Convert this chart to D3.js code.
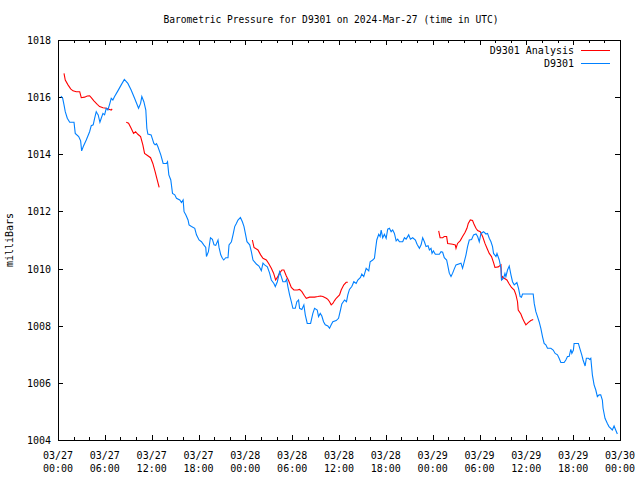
<!DOCTYPE html>
<html><head><meta charset="utf-8">
<script src="https://cdn.jsdelivr.net/npm/d3@7"></script>
<style>
body{margin:0;background:#fff;}
svg{display:block;}
text{font-family:"DejaVu Sans Mono","Liberation Mono",monospace;font-size:10px;fill:#000;}
</style></head>
<body>
<svg id="chart" width="640" height="480"></svg>
<script>
// ---- data (hours since 2024-03-27 00:00 UTC, pressure in mbar) ----
const titleText = "Barometric Pressure for D9301 on 2024-Mar-27 (time in UTC)";
const yLabel = "milliBars";
const seriesNames = ["D9301 Analysis", "D9301"];
const yTicks = [1004, 1006, 1008, 1010, 1012, 1014, 1016, 1018];

const obsHours = [0.38,0.60,0.77,0.93,1.19,1.50,2.05,2.21,2.65,2.90,3.03,3.24,3.62,4.05,4.26,4.51,4.69,4.90,5.03,5.15,5.37,5.54,5.76,5.97,6.18,6.39,6.61,6.82,7.03,7.25,7.67,8.10,8.50,8.95,9.37,9.81,10.32,10.58,10.74,11.00,11.25,11.38,11.51,11.93,12.28,12.44,12.62,12.79,13.17,13.47,13.90,14.03,14.20,14.45,14.67,14.96,15.18,15.60,15.82,16.03,16.15,16.37,16.66,16.79,17.10,17.52,17.74,18.07,18.38,18.67,18.93,19.02,19.27,19.53,19.78,19.99,20.21,20.50,20.63,20.85,21.06,21.23,21.49,21.78,21.91,22.22,22.42,22.64,22.85,23.06,23.37,23.62,23.83,24.04,24.21,24.56,24.77,24.98,25.41,25.74,26.05,26.26,26.47,26.82,27.11,27.33,27.66,27.84,28.10,28.39,28.61,28.81,29.12,29.29,29.45,29.67,29.89,30.09,30.40,30.60,30.82,30.95,31.24,31.50,31.68,31.93,32.36,32.65,32.87,33.21,33.38,33.60,33.80,34.02,34.24,34.57,34.79,35.00,35.21,35.64,35.94,36.19,36.36,36.71,36.96,37.13,37.34,37.64,37.90,38.20,38.41,38.75,38.92,39.17,39.48,39.81,39.99,40.32,40.54,40.67,40.84,41.09,41.27,41.40,41.60,41.82,42.04,42.24,42.46,42.68,42.88,43.10,43.32,43.52,43.74,44.16,44.38,44.60,44.93,45.15,45.44,45.79,46.00,46.30,46.52,46.72,46.94,47.15,47.41,47.58,47.79,47.92,48.09,48.34,48.86,49.07,49.28,49.49,49.79,49.92,50.13,50.35,50.56,50.77,50.99,51.63,51.83,52.05,52.27,52.47,52.69,52.99,53.24,53.55,53.76,53.97,54.19,54.52,54.83,55.03,55.25,55.47,55.67,55.80,56.11,56.24,56.53,56.75,56.82,57.08,57.26,57.38,57.59,57.81,58.03,58.23,58.45,58.79,59.00,59.21,59.38,59.51,60.88,61.01,61.22,61.43,61.64,61.86,62.07,62.28,62.50,62.71,63.14,63.44,63.69,63.99,64.20,64.42,64.84,65.06,65.27,65.48,65.70,65.83,66.03,66.12,66.67,66.85,67.10,67.27,67.53,67.69,67.95,68.13,68.26,68.46,68.68,68.90,69.10,69.32,69.53,69.74,69.83,70.08,70.38,70.59,71.02,71.24,71.45,71.66];
const obsMbar = [1016.04,1015.96,1015.73,1015.49,1015.26,1015.12,1015.12,1014.73,1014.62,1014.47,1014.12,1014.27,1014.50,1014.79,1015.00,1015.03,1015.26,1015.49,1015.43,1015.38,1015.12,1015.26,1015.43,1015.38,1015.61,1015.55,1015.75,1015.96,1015.90,1016.02,1016.22,1016.43,1016.62,1016.48,1016.25,1015.96,1015.61,1015.78,1016.02,1015.84,1015.55,1014.91,1014.71,1014.68,1014.38,1014.33,1014.37,1014.27,1013.98,1013.68,1013.68,1013.74,1013.28,1013.10,1012.63,1012.58,1012.46,1012.40,1012.31,1012.40,1011.99,1011.88,1011.70,1011.53,1011.47,1011.41,1011.18,1011.00,1010.94,1010.83,1010.74,1010.42,1010.59,1011.08,1011.02,1010.83,1010.81,1011.00,1010.74,1010.48,1010.36,1010.30,1010.38,1010.38,1010.83,1010.94,1011.18,1011.47,1011.58,1011.70,1011.79,1011.64,1011.47,1011.18,1010.94,1010.83,1010.59,1010.30,1010.16,1010.09,1009.93,1010.19,1010.13,1010.06,1009.84,1009.60,1009.48,1009.37,1009.54,1009.89,1009.72,1009.54,1009.54,1009.62,1009.37,1009.08,1008.84,1008.61,1008.61,1008.84,1008.90,1008.61,1008.57,1008.73,1008.38,1008.08,1008.08,1008.43,1008.61,1008.55,1008.32,1008.43,1008.34,1008.14,1008.03,1007.99,1007.91,1008.03,1008.14,1008.18,1008.26,1008.55,1008.76,1008.90,1008.84,1009.08,1009.27,1009.37,1009.54,1009.48,1009.60,1009.69,1009.81,1009.72,1010.01,1009.92,1010.24,1010.30,1010.36,1010.65,1011.00,1011.20,1011.12,1011.35,1011.08,1011.20,1011.06,1011.38,1011.41,1011.29,1011.35,1011.23,1010.97,1011.03,1010.94,1010.94,1011.08,1011.03,1011.18,1011.03,1011.08,1011.00,1010.85,1010.71,1010.83,1011.08,1010.94,1010.77,1010.80,1010.65,1010.71,1010.53,1010.62,1010.50,1010.50,1010.59,1010.57,1010.38,1010.30,1010.13,1009.84,1009.72,1009.84,1009.99,1010.13,1010.19,1010.01,1010.24,1010.48,1010.77,1011.00,1011.02,1011.18,1011.21,1011.12,1010.94,1011.23,1011.29,1011.21,1011.23,1011.06,1010.94,1010.77,1010.53,1010.42,1010.53,1010.30,1010.01,1009.60,1009.66,1009.83,1009.72,1009.95,1010.09,1009.78,1009.54,1009.43,1009.51,1009.31,1009.02,1009.00,1009.11,1009.11,1008.78,1008.49,1008.32,1008.14,1007.91,1007.62,1007.38,1007.33,1007.21,1007.21,1007.15,1007.03,1006.98,1006.86,1006.71,1006.71,1006.80,1006.92,1006.92,1007.17,1007.03,1007.15,1007.38,1007.38,1007.21,1006.98,1006.80,1006.59,1006.86,1006.86,1006.82,1006.86,1006.28,1005.93,1005.75,1005.52,1005.58,1005.58,1005.40,1005.11,1004.76,1004.58,1004.47,1004.35,1004.49,1004.35,1004.21];

// analysis series: null marks a gap between runs
const anaHours = [0.77,0.93,1.28,1.62,1.92,2.34,2.78,2.98,3.41,3.75,4.05,4.26,4.60,5.03,5.33,5.76,6.18,6.61,6.82,6.94,
  null,
  8.74,9.04,9.37,9.68,9.94,10.23,10.58,10.87,11.09,11.51,11.86,12.15,12.44,12.66,12.96,
  null,
  24.90,25.11,25.62,25.96,26.26,26.69,26.99,27.33,27.62,27.88,28.10,28.39,28.69,28.94,29.25,29.54,29.89,30.22,30.66,30.95,31.24,31.59,31.81,32.23,32.87,33.29,33.64,33.93,34.37,34.57,34.79,35.00,35.21,35.43,35.64,36.07,36.28,36.62,36.92,37.13,
  null,
  48.77,48.95,49.28,49.49,49.79,49.92,50.35,50.56,50.90,50.99,51.19,51.54,51.83,52.14,52.39,52.56,52.82,53.11,53.33,53.55,53.76,54.10,54.40,54.70,54.96,55.25,55.54,55.80,55.98,56.40,56.75,56.82,56.95,57.17,57.51,57.81,58.10,58.45,58.67,58.87,58.96,59.30,59.51,59.73,59.94,60.24,60.58,60.88];
const anaMbar = [1016.83,1016.60,1016.43,1016.29,1016.22,1016.19,1016.19,1015.98,1016.00,1016.04,1016.05,1015.98,1015.87,1015.75,1015.67,1015.63,1015.61,1015.57,1015.55,1015.59,
  null,
  1015.12,1015.09,1014.91,1014.73,1014.79,1014.70,1014.62,1014.33,1014.03,1013.95,1013.88,1013.68,1013.39,1013.16,1012.84,
  null,
  1011.00,1010.74,1010.65,1010.48,1010.36,1010.30,1010.18,1010.01,1009.84,1009.60,1009.69,1009.84,1009.95,1009.95,1009.74,1009.58,1009.34,1009.25,1009.25,1009.27,1009.19,1009.04,1008.96,1009.00,1009.00,1009.02,1009.04,1009.02,1008.96,1008.92,1008.84,1008.73,1008.78,1008.88,1008.96,1009.08,1009.25,1009.43,1009.52,1009.52,
  null,
  1011.32,1011.08,1011.08,1011.12,1011.12,1010.88,1010.86,1010.85,1010.83,1010.71,1010.88,1010.98,1011.12,1011.26,1011.41,1011.58,1011.70,1011.68,1011.53,1011.41,1011.33,1011.29,1011.12,1010.88,1010.71,1010.53,1010.42,1010.21,1010.04,1010.06,1010.13,1009.60,1009.72,1009.66,1009.60,1009.46,1009.34,1009.25,1009.08,1008.84,1008.55,1008.41,1008.26,1008.14,1008.03,1008.11,1008.18,1008.22];

// ---- drawing ----
const W = 640, H = 480;
const m = {left: 58, right: 620, top: 40, bottom: 440};
const t0 = Date.UTC(2024, 2, 27);
const toDate = h => new Date(t0 + h * 3600000);

const x = d3.scaleUtc().domain([toDate(0), toDate(72)]).range([m.left, m.right]);
const y = d3.scaleLinear().domain([1004, 1018]).range([m.bottom, m.top]);

const svg = d3.select("#chart");
svg.append("rect").attr("width", W).attr("height", H).attr("fill", "#fff");

const crisp = v => Math.round(v) + 0.5;

// ticks (inward) on all four sides
const gT = svg.append("g").attr("stroke", "#000").attr("stroke-width", 1).attr("shape-rendering", "crispEdges");
const minorT = x.ticks(d3.utcHour.every(2));
minorT.forEach(d => {
  const major = d.getUTCHours() % 6 === 0;
  const len = major ? 5 : 3;
  const px = crisp(x(d));
  gT.append("line").attr("x1", px).attr("x2", px).attr("y1", m.bottom).attr("y2", m.bottom - len);
  gT.append("line").attr("x1", px).attr("x2", px).attr("y1", m.top).attr("y2", m.top + len);
});
yTicks.forEach(v => {
  const py = crisp(y(v));
  gT.append("line").attr("x1", m.left).attr("x2", m.left + 5).attr("y1", py).attr("y2", py);
  gT.append("line").attr("x1", m.right).attr("x2", m.right - 5).attr("y1", py).attr("y2", py);
});

// y tick labels
svg.append("g").selectAll("text").data(yTicks).join("text")
  .attr("x", m.left - 7).attr("y", d => y(d) + 4)
  .attr("text-anchor", "end").text(d => d);

// x tick labels
const majorT = x.ticks(d3.utcHour.every(6));
const fDay = d3.utcFormat("%m/%d"), fHr = d3.utcFormat("%H:%M");
const xl = svg.append("g").selectAll("g").data(majorT).join("g");
xl.append("text").attr("x", d => x(d)).attr("y", 459).attr("text-anchor", "middle").text(d => fDay(d));
xl.append("text").attr("x", d => x(d)).attr("y", 472).attr("text-anchor", "middle").text(d => fHr(d));

// frame
svg.append("rect").attr("x", m.left + 0.5).attr("y", m.top + 0.5)
  .attr("width", m.right - m.left).attr("height", m.bottom - m.top)
  .attr("fill", "none").attr("stroke", "#000").attr("shape-rendering", "crispEdges");

// title and y label
svg.append("text").attr("x", 331).attr("y", 23).attr("text-anchor", "middle")
  .style("font-size", "9.6px").text(titleText);
svg.append("text").attr("transform", "translate(13,240) rotate(-90)").attr("text-anchor", "middle").text(yLabel);

// lines
const line = d3.line()
  .defined(d => d[0] !== null && d[1] !== null)
  .x(d => x(toDate(d[0]))).y(d => y(d[1]));

const anaData = anaHours.map((h, i) => [h, anaMbar[i]]);
const obsData = obsHours.map((h, i) => [h, obsMbar[i]]);
const colors = ["#ff0000", "#0080ff"];

svg.append("path").datum(anaData).attr("d", line)
  .attr("fill", "none").attr("stroke", colors[0]).attr("stroke-width", 1.1);
svg.append("path").datum(obsData).attr("d", line)
  .attr("fill", "none").attr("stroke", colors[1]).attr("stroke-width", 1.1);

// legend
const lg = svg.append("g");
seriesNames.forEach((name, i) => {
  const ly = 50 + i * 13;
  lg.append("text").attr("x", 574).attr("y", ly + 4).attr("text-anchor", "end").text(name);
  lg.append("line").attr("x1", 581).attr("x2", 610).attr("y1", ly + 0.5).attr("y2", ly + 0.5)
    .attr("stroke", colors[i]).attr("stroke-width", 1).attr("shape-rendering", "crispEdges");
});
</script>
</body></html>
